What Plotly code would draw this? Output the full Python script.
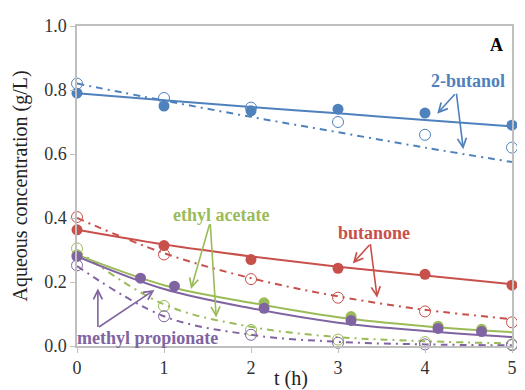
import plotly.graph_objects as go

# ---------------- data ----------------
t_obs = [0, 1, 2, 3, 4, 5]
t_fit = [0, 1, 2, 3, 4, 5]

# 2-butanol
but_filled = [0.79, 0.75, 0.735, 0.74, 0.728, 0.69]
but_open = [0.82, 0.775, 0.745, 0.70, 0.66, 0.62]
but_fit_solid = [0.79, 0.768, 0.747, 0.727, 0.706, 0.686]
but_fit_dash = [0.82, 0.767, 0.716, 0.668, 0.62, 0.575]

# butanone
bon_filled = [0.363, 0.314, 0.27, 0.243, 0.224, 0.19]
bon_open = [0.403, 0.286, 0.209, 0.151, 0.108, 0.074]
bon_fit_solid = [0.363, 0.317, 0.28, 0.248, 0.22, 0.193]
bon_fit_dash = [0.40, 0.29, 0.212, 0.155, 0.113, 0.084]

# ethyl acetate
ea_t_filled = [0, 2.15, 3.15, 4.15, 4.65]
ea_filled = [0.285, 0.135, 0.092, 0.062, 0.052]
ea_open = [0.305, 0.125, 0.05, 0.02, 0.012, 0.005]
ea_fit_solid = [0.285, 0.19, 0.135, 0.09, 0.062, 0.043]
ea_fit_dash = [0.30, 0.13, 0.06, 0.028, 0.015, 0.008]

# methyl propionate
mp_t_filled = [0, 0.73, 1.12, 2.15, 3.15, 4.15, 4.65]
mp_filled = [0.28, 0.212, 0.187, 0.118, 0.08, 0.055, 0.045]
mp_open = [0.252, 0.093, 0.035, 0.01, 0.005, 0.003]
mp_fit_solid = [0.28, 0.178, 0.118, 0.073, 0.047, 0.028]
mp_fit_dash = [0.25, 0.093, 0.035, 0.013, 0.005, 0.002]

x_ticks = [0, 1, 2, 3, 4, 5]
y_ticks = [0.0, 0.2, 0.4, 0.6, 0.8, 1.0]

BLUE = "#4F81BD"
RED = "#C8504B"
GREEN = "#9BBB59"
PURPLE = "#8064A2"
DASH = "7px,5px,2px,5px"
SERIF = "Liberation Serif"

fig = go.Figure()


def add_series(tf, solid, dash, to, opn, tfill, filled, color):
    fig.add_trace(go.Scatter(x=tf, y=dash, mode="lines", line=dict(color=color, width=2, dash=DASH, shape="spline"),
                             cliponaxis=False, showlegend=False, hoverinfo="skip"))
    fig.add_trace(go.Scatter(x=tf, y=solid, mode="lines", line=dict(color=color, width=2, shape="spline"),
                             cliponaxis=False, showlegend=False, hoverinfo="skip"))
    fig.add_trace(go.Scatter(x=to, y=opn, mode="markers",
                             marker=dict(symbol="circle-open", size=11, color=color, line=dict(width=1)),
                             cliponaxis=False, showlegend=False))
    fig.add_trace(go.Scatter(x=tfill, y=filled, mode="markers",
                             marker=dict(symbol="circle", size=11, color=color),
                             cliponaxis=False, showlegend=False))


add_series(t_fit, but_fit_solid, but_fit_dash, t_obs, but_open, t_obs, but_filled, BLUE)
add_series(t_fit, bon_fit_solid, bon_fit_dash, t_obs, bon_open, t_obs, bon_filled, RED)
add_series(t_fit, ea_fit_solid, ea_fit_dash, t_obs, ea_open, ea_t_filled, ea_filled, GREEN)
add_series(t_fit, mp_fit_solid, mp_fit_dash, t_obs, mp_open, mp_t_filled, mp_filled, PURPLE)

annotations = []


def label(text, x, y, color, size=18):
    annotations.append(dict(text="<b>%s</b>" % text, x=x, y=y, xref="x", yref="y", showarrow=False,
                            font=dict(family=SERIF, size=size, color=color),
                            xanchor="center", yanchor="middle"))


def arrow(x, y, ax, ay, color):
    annotations.append(dict(text="", x=x, y=y, xref="x", yref="y", ax=ax, ay=ay, showarrow=True,
                            arrowhead=5, arrowsize=1.1, arrowwidth=1.6, arrowcolor=color))


label("2-butanol", 4.49, 0.828, BLUE)
arrow(4.14, 0.726, 19, -21, BLUE)
arrow(4.44, 0.615, -7, -57, BLUE)

label("butanone", 3.41, 0.354, RED)
arrow(3.17, 0.258, 18, -20, RED)
arrow(3.45, 0.151, -7, -55, RED)

label("ethyl acetate", 1.65, 0.409, GREEN)
arrow(1.31, 0.178, 19, -66, GREEN)
arrow(1.60, 0.089, -6, -95, GREEN)

label("methyl propionate", 0.81, 0.025, PURPLE)
arrow(0.24, 0.18, 0, 40, PURPLE)
arrow(0.89, 0.175, -57, 38, PURPLE)

label("A", 4.82, 0.94, "black")

annotations.append(dict(text="Aqueous concentration (g/L)", xref="paper", yref="paper", x=-0.13, y=0.5,
                        textangle=-90, showarrow=False, xanchor="center", yanchor="middle",
                        font=dict(family=SERIF, size=20, color="#222")))
annotations.append(dict(text="t (h)", xref="paper", yref="paper", x=0.491, y=-0.101,
                        showarrow=False, xanchor="center", yanchor="middle",
                        font=dict(family=SERIF, size=20, color="#222")))

# page body adds an 8px offset; size the figure so the plot area lands at x 77-517, y 20-346
fig.update_layout(
    width=517, height=382,
    margin=dict(l=69, r=8, t=12, b=44),
    paper_bgcolor="white", plot_bgcolor="white",
    showlegend=False,
    annotations=annotations,
    font=dict(family=SERIF, size=18, color="#333"),
)
fig.update_xaxes(range=[0, 5], tickvals=x_ticks, ticktext=[str(v) for v in x_ticks], showgrid=False, zeroline=False,
                 showline=True, linecolor="#BFBFBF", linewidth=1.5, mirror=True, ticks="outside", ticklen=5,
                 tickcolor="#BFBFBF", tickfont=dict(family=SERIF, size=18, color="#333"))
fig.update_yaxes(range=[0, 1.0], tickvals=y_ticks, ticktext=["%.1f" % v for v in y_ticks], showgrid=False,
                 zeroline=False, showline=True, linecolor="#BFBFBF", linewidth=1.5, mirror=True, ticks="outside",
                 ticklen=5, tickcolor="#BFBFBF", tickfont=dict(family=SERIF, size=18, color="#333"))

fig.write_html("out.html")
